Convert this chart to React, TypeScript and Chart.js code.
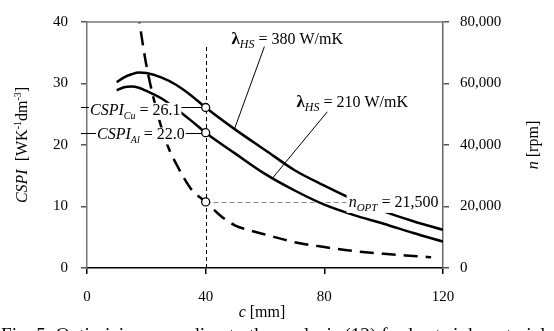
import { useEffect, useRef } from 'react';
import { Chart, registerables } from 'chart.js';

Chart.register(...registerables);

const SERIF = '"Liberation Serif", "Times New Roman", serif';

// c [mm] grid and CSPI values
const cCspi = [10, 12.5, 15, 17.5, 20, 25, 30, 35, 40, 50, 60, 70, 80, 90, 100, 110, 120];
const cspiCu = [30.2, 31.0, 31.5, 31.8, 31.7, 31.0, 29.8, 28.1, 26.1, 22.5, 19.2, 15.9, 13.4, 11.1, 9.2, 7.6, 6.2];
const cspiAl = [28.9, 29.4, 29.5, 29.3, 28.8, 27.6, 25.9, 24.0, 22.0, 18.6, 15.3, 12.6, 10.3, 8.6, 7.2, 5.7, 4.3];

// optimal speed n [rpm]
const cN = [17, 20, 22.5, 25, 27.5, 30, 35, 40, 45, 50, 55, 60, 70, 80, 90, 100, 110, 116];
const nRpm = [84000, 66000, 55000, 46000, 39000, 34000, 25800, 21500, 17000, 13800, 12200, 10900, 8400, 6800, 5500, 4600, 3900, 3500];

// optimum markers
const cOpt = 40;
const cspiOpt = [26.1, 22.0];
const cspiOptNames = ['Cu', 'Al'];
const nOpt = 21500;

// thermal conductivities
const lambdaLabels = ['380 W/mK', '210 W/mK'];

const xTicks = { min: 0, max: 120, step: 40 };
const yTicks = { min: 0, max: 40, step: 10 };
const y1Ticks = { min: 0, max: 80000, step: 20000 };

const captionText = 'Fig. 5. Optimizing according to the analysis (12) for heat sink materials';

type Seg = { t: string; f: string; dy?: number };

function richWidth(ctx: CanvasRenderingContext2D, segs: Seg[]) {
  let w = 0;
  for (const s of segs) {
    ctx.font = s.f;
    w += ctx.measureText(s.t).width;
  }
  return w;
}

function drawRich(ctx: CanvasRenderingContext2D, segs: Seg[], x: number, y: number, align: 'left' | 'center' = 'left') {
  const w = richWidth(ctx, segs);
  let cx = align === 'center' ? x - w / 2 : x;
  ctx.textAlign = 'left';
  ctx.textBaseline = 'alphabetic';
  for (const s of segs) {
    ctx.font = s.f;
    ctx.fillText(s.t, cx, y + (s.dy || 0));
    cx += ctx.measureText(s.t).width;
  }
  return w;
}

const f = (style: string, size: number) => `${style} ${size}px ${SERIF}`;

const annotations = {
  id: 'annotations',
  beforeDatasetsDraw(chart: any) {
    const { ctx, scales } = chart;
    const xs = scales.x, ys = scales.y, y1 = scales.y1;
    ctx.save();
    // vertical dashed line at optimum c
    ctx.strokeStyle = '#000';
    ctx.lineWidth = 1;
    ctx.setLineDash([4, 3]);
    ctx.beginPath();
    ctx.moveTo(Math.round(xs.getPixelForValue(cOpt)) + 0.5, ys.getPixelForValue(0));
    ctx.lineTo(Math.round(xs.getPixelForValue(cOpt)) + 0.5, ys.getPixelForValue(36));
    ctx.stroke();
    // horizontal grey dashed line at nOpt
    ctx.strokeStyle = '#8a8a8a';
    ctx.setLineDash([5, 3]);
    const yn = Math.round(y1.getPixelForValue(nOpt)) + 0.5;
    ctx.beginPath();
    ctx.moveTo(xs.getPixelForValue(cOpt), yn);
    ctx.lineTo(xs.getPixelForValue(88), yn);
    ctx.stroke();
    ctx.setLineDash([]);
    // horizontal leaders from left axis to CSPI markers
    ctx.strokeStyle = '#000';
    for (const v of cspiOpt) {
      const yy = Math.round(ys.getPixelForValue(v)) + 0.5;
      ctx.beginPath();
      ctx.moveTo(xs.left - 6, yy);
      ctx.lineTo(xs.getPixelForValue(cOpt), yy);
      ctx.stroke();
    }
    // leader lines of lambda labels
    ctx.lineWidth = 1;
    ctx.beginPath();
    ctx.moveTo(xs.getPixelForValue(59.8), ys.getPixelForValue(36));
    ctx.lineTo(xs.getPixelForValue(49.7), ys.getPixelForValue(22.6));
    ctx.moveTo(xs.getPixelForValue(81), ys.getPixelForValue(25.4));
    ctx.lineTo(xs.getPixelForValue(62.5), ys.getPixelForValue(14.6));
    ctx.stroke();
    ctx.restore();
  },
  afterDatasetsDraw(chart: any) {
    const { ctx, scales, chartArea } = chart;
    const xs = scales.x, ys = scales.y, y1 = scales.y1;
    ctx.save();
    ctx.fillStyle = '#000';
    // CSPI labels with white background
    const cspiPos = [
      { c: 1.0, v: 24.9 },
      { c: 3.4, v: 20.9 },
    ];
    cspiOpt.forEach((v, i) => {
      const segs: Seg[] = [
        { t: 'CSPI', f: f('italic', 16) },
        { t: cspiOptNames[i], f: f('italic', 10), dy: 4 },
        { t: ' = ' + v.toFixed(1), f: f('normal', 16) },
      ];
      const x = xs.getPixelForValue(cspiPos[i].c);
      const y = ys.getPixelForValue(cspiPos[i].v);
      const w = richWidth(ctx, segs);
      ctx.fillStyle = '#fff';
      ctx.fillRect(x - 1, y - 12, w + 2, 17);
      ctx.fillStyle = '#000';
      drawRich(ctx, segs, x, y);
    });
    // nOPT label
    {
      const segs: Seg[] = [
        { t: 'n', f: f('italic', 16) },
        { t: 'OPT', f: f('italic', 11), dy: 4 },
        { t: ' = ' + nOpt.toLocaleString('en-US'), f: f('normal', 16) },
      ];
      const x = xs.getPixelForValue(88.2);
      const y = y1.getPixelForValue(nOpt) + 5;
      const w = richWidth(ctx, segs);
      ctx.fillStyle = '#fff';
      ctx.fillRect(x - 2, y - 12, w + 3, 18);
      ctx.fillStyle = '#000';
      drawRich(ctx, segs, x, y);
    }
    // lambda labels
    const lamPos = [
      { c: 48.7, v: 36.5 },
      { c: 70.6, v: 26.1 },
    ];
    lambdaLabels.forEach((t, i) => {
      const segs: Seg[] = [
        { t: 'λ', f: f('bold', 17) },
        { t: 'HS', f: f('italic', 12), dy: 4 },
        { t: ' = ' + t, f: f('normal', 16) },
      ];
      drawRich(ctx, segs, xs.getPixelForValue(lamPos[i].c), ys.getPixelForValue(lamPos[i].v));
    });
    // top frame line
    ctx.strokeStyle = '#777';
    ctx.lineWidth = 1.5;
    ctx.beginPath();
    ctx.moveTo(chartArea.left, chartArea.top);
    ctx.lineTo(chartArea.right, chartArea.top);
    ctx.stroke();
    ctx.restore();
  },
  afterDraw(chart: any) {
    const { ctx, chartArea } = chart;
    ctx.save();
    ctx.fillStyle = '#000';
    const midY = (chartArea.top + chartArea.bottom) / 2;
    // left axis title
    ctx.save();
    ctx.translate(27, midY);
    ctx.rotate(-Math.PI / 2);
    drawRich(ctx, [
      { t: 'CSPI', f: f('italic', 16) },
      { t: '  [WK', f: f('normal', 16) },
      { t: '-1', f: f('normal', 10), dy: -6 },
      { t: 'dm', f: f('normal', 16) },
      { t: '-3', f: f('normal', 10), dy: -6 },
      { t: ']', f: f('normal', 16) },
    ], 0, 0, 'center');
    ctx.restore();
    // right axis title
    ctx.save();
    ctx.translate(538, midY);
    ctx.rotate(-Math.PI / 2);
    drawRich(ctx, [
      { t: 'n', f: f('italic', 16) },
      { t: ' [rpm]', f: f('normal', 16) },
    ], 0, 0, 'center');
    ctx.restore();
    // x axis title
    drawRich(ctx, [
      { t: 'c', f: f('italic', 16) },
      { t: ' [mm]', f: f('normal', 16) },
    ], (chartArea.left + chartArea.right) / 2 - 3, 317, 'center');
    // caption (cut off at the bottom of the picture)
    ctx.font = f('normal', 19);
    const cw = ctx.measureText(captionText).width;
    ctx.save();
    ctx.translate(1, 341);
    ctx.scale(552 / cw, 1);
    ctx.textAlign = 'left';
    ctx.textBaseline = 'alphabetic';
    ctx.fillText(captionText, 0, 0);
    ctx.restore();
    ctx.restore();
  },
};

export default function App() {
  const ref = useRef<HTMLCanvasElement>(null);
  useEffect(() => {
    if (!ref.current) return;
    const tickFont = { family: SERIF, size: 15 };
    const chart = new Chart(ref.current, {
      type: 'line',
      data: {
        datasets: [
          {
            label: 'CSPI optimum',
            data: cspiOpt.map((v) => ({ x: cOpt, y: v })),
            yAxisID: 'y',
            showLine: false,
            pointRadius: 4,
            pointBackgroundColor: '#fff',
            pointBorderColor: '#000',
            pointBorderWidth: 1.3,
            order: 0,
          },
          {
            label: 'n optimum',
            data: [{ x: cOpt, y: nOpt }],
            yAxisID: 'y1',
            showLine: false,
            pointRadius: 4,
            pointBackgroundColor: '#fff',
            pointBorderColor: '#000',
            pointBorderWidth: 1.3,
            order: 0,
          },
          {
            label: 'Cu',
            data: cCspi.map((c, i) => ({ x: c, y: cspiCu[i] })),
            yAxisID: 'y',
            borderColor: '#000',
            borderWidth: 2.5,
            pointRadius: 0,
            cubicInterpolationMode: 'monotone',
            order: 1,
          },
          {
            label: 'Al',
            data: cCspi.map((c, i) => ({ x: c, y: cspiAl[i] })),
            yAxisID: 'y',
            borderColor: '#000',
            borderWidth: 2.5,
            pointRadius: 0,
            cubicInterpolationMode: 'monotone',
            order: 1,
          },
          {
            label: 'n',
            data: cN.map((c, i) => ({ x: c, y: nRpm[i] })),
            yAxisID: 'y1',
            borderColor: '#000',
            borderWidth: 2.5,
            borderDash: [14, 8],
            pointRadius: 0,
            cubicInterpolationMode: 'monotone',
            order: 1,
          },
        ],
      },
      options: {
        responsive: false,
        animation: false,
        layout: { padding: { top: 8, left: 0, right: 0, bottom: 0 } },
        plugins: { legend: { display: false }, tooltip: { enabled: false } },
        scales: {
          x: {
            type: 'linear',
            min: xTicks.min,
            max: xTicks.max,
            afterFit: (s: any) => { s.height = 63; },
            ticks: { stepSize: xTicks.step, font: tickFont, color: '#000', padding: 14, maxRotation: 0 },
            grid: { drawOnChartArea: false, drawTicks: true, tickLength: 6, color: '#000', lineWidth: 1.5 },
            border: { display: true, color: '#000', width: 1.5 },
          },
          y: {
            type: 'linear',
            position: 'left',
            min: yTicks.min,
            max: yTicks.max,
            afterFit: (s: any) => { s.width = 87; },
            ticks: { stepSize: yTicks.step, font: tickFont, color: '#000', padding: 13 },
            grid: { drawOnChartArea: false, drawTicks: true, tickLength: 6, color: '#555', lineWidth: 1.5 },
            border: { display: true, color: '#777', width: 1.5 },
          },
          y1: {
            type: 'linear',
            position: 'right',
            min: y1Ticks.min,
            max: y1Ticks.max,
            afterFit: (s: any) => { s.width = 111; },
            ticks: {
              stepSize: y1Ticks.step,
              font: tickFont,
              color: '#000',
              padding: 11,
              callback: (v: any) => Number(v).toLocaleString('en-US'),
            },
            grid: { drawOnChartArea: false, drawTicks: true, tickLength: 6, color: '#555', lineWidth: 1.5 },
            border: { display: true, color: '#666', width: 1.5 },
          },
        },
      },
      plugins: [annotations],
    } as any);
    return () => chart.destroy();
  }, []);
  return (
    <div style={{ position: 'fixed', left: 0, top: 0, width: 554, height: 331, background: '#fff' }}>
      <canvas ref={ref} width={554} height={331} style={{ width: 554, height: 331, display: 'block' }} />
    </div>
  );
}
